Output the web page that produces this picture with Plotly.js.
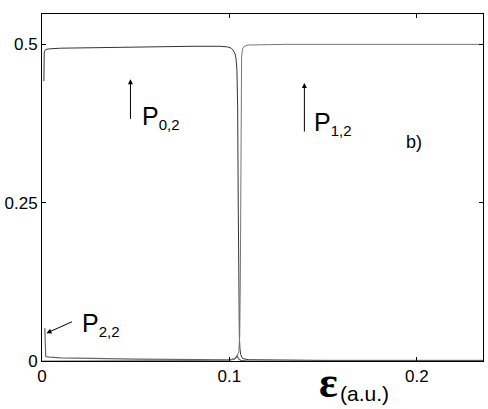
<!DOCTYPE html>
<html>
<head>
<meta charset="utf-8">
<script src="https://cdn.plot.ly/plotly-3.0.1.min.js"></script>
<style>
  body { margin: 0; background: #fff; }
  #plot { width: 488px; height: 409px; }
</style>
</head>
<body>
<div id="plot"></div>
<script>
// P_{0,2}: ~0.5 up to the crossing near 0.105, then ~0
var x02 = [0.001, 0.0012, 0.002, 0.004, 0.01, 0.03, 0.05, 0.08, 0.095, 0.099, 0.101, 0.102, 0.103, 0.1035, 0.104, 0.1044, 0.1047, 0.105, 0.1053, 0.1056, 0.106, 0.107, 0.11, 0.15, 0.2, 0.236];
var y02 = [0.442, 0.488, 0.492, 0.493, 0.494, 0.495, 0.496, 0.497, 0.497, 0.496, 0.494, 0.491, 0.485, 0.478, 0.46, 0.40, 0.25, 0.10, 0.04, 0.02, 0.01, 0.004, 0.002, 0.001, 0.001, 0.001];

// P_{1,2}: ~0 before the crossing, then ~0.5
var x12 = [0, 0.05, 0.1, 0.103, 0.104, 0.105, 0.1055, 0.1058, 0.106, 0.1062, 0.1065, 0.107, 0.108, 0.11, 0.13, 0.2, 0.236];
var y12 = [0, 0, 0.001, 0.003, 0.006, 0.015, 0.04, 0.12, 0.3, 0.44, 0.48, 0.493, 0.497, 0.499, 0.5, 0.5, 0.5];

// P_{2,2}: small, starts near 0.05
var x22 = [0.0015, 0.0017, 0.002, 0.004, 0.01, 0.05, 0.09, 0.1, 0.103, 0.104, 0.105, 0.106, 0.11, 0.236];
var y22 = [0.052, 0.012, 0.007, 0.006, 0.005, 0.003, 0.002, 0.002, 0.004, 0.008, 0.003, 0.001, 0, 0];

var xTicks = [0, 0.1, 0.2];
var yTicks = [0, 0.25, 0.5];

var traces = [
  {x: x02, y: y02, mode: "lines", line: {color: "#333", width: 1}},
  {x: x12, y: y12, mode: "lines", line: {color: "#777", width: 1}},
  {x: x22, y: y22, mode: "lines", line: {color: "#666", width: 1.2}}
];

var font = {family: "Liberation Sans, Arial, sans-serif", color: "#000"};

function pLabel(sub) {
  return "P<sub><span style=\"font-size:15px\">" + sub + "</span></sub>";
}

var layout = {
  width: 488, height: 409,
  margin: {l: 42, r: 5, t: 14, b: 48},
  showlegend: false,
  paper_bgcolor: "#fff", plot_bgcolor: "#fff",
  font: font,
  xaxis: {
    range: [0, 0.2353], tickvals: xTicks, ticktext: ["0", "0.1", "0.2"],
    ticks: "inside", ticklen: 4, tickcolor: "#000",
    showline: true, linecolor: "#000", linewidth: 1, mirror: "ticks",
    showgrid: false, zeroline: false,
    tickfont: {size: 17}
  },
  yaxis: {
    range: [0, 0.548], tickvals: yTicks, ticktext: ["0", "0.25", "0.5"],
    ticks: "inside", ticklen: 4, tickcolor: "#000",
    showline: true, linecolor: "#000", linewidth: 1, mirror: "ticks",
    showgrid: false, zeroline: false,
    tickfont: {size: 17}
  },
  annotations: [
    // arrows
    {x: 0.0472, y: 0.445, ax: 0.0472, ay: 0.380, axref: "x", ayref: "y", text: "",
     showarrow: true, arrowhead: 2, arrowsize: 1, arrowwidth: 1, arrowcolor: "#000"},
    {x: 0.140, y: 0.439, ax: 0.140, ay: 0.360, axref: "x", ayref: "y", text: "",
     showarrow: true, arrowhead: 2, arrowsize: 1, arrowwidth: 1, arrowcolor: "#000"},
    {x: 0.0024, y: 0.044, ax: 0.0168, ay: 0.063, axref: "x", ayref: "y", text: "",
     showarrow: true, arrowhead: 2, arrowsize: 1, arrowwidth: 1, arrowcolor: "#000"},
    // labels
    {x: 0.0525, y: 0.385, text: pLabel("0,2"), showarrow: false, xanchor: "left", yanchor: "middle", font: {size: 25}},
    {x: 0.1442, y: 0.375, text: pLabel("1,2"), showarrow: false, xanchor: "left", yanchor: "middle", font: {size: 25}},
    {x: 0.0205, y: 0.058, text: pLabel("2,2"), showarrow: false, xanchor: "left", yanchor: "middle", font: {size: 25}},
    {x: 0.193, y: 0.346, text: "b)", showarrow: false, xanchor: "left", yanchor: "middle", font: {size: 18}},
    // axis title: epsilon and unit
    {x: 0.624, y: -0.063, xref: "paper", yref: "paper", text: "<b>ε</b>",
     showarrow: false, xanchor: "left", yanchor: "middle",
     font: {family: "Liberation Serif, serif", size: 44}},
    {x: 0.672, y: -0.095, xref: "paper", yref: "paper", text: "(a.u.)",
     showarrow: false, xanchor: "left", yanchor: "middle", font: {size: 21}}
  ]
};

Plotly.newPlot("plot", traces, layout, {staticPlot: true});
</script>
</body>
</html>
